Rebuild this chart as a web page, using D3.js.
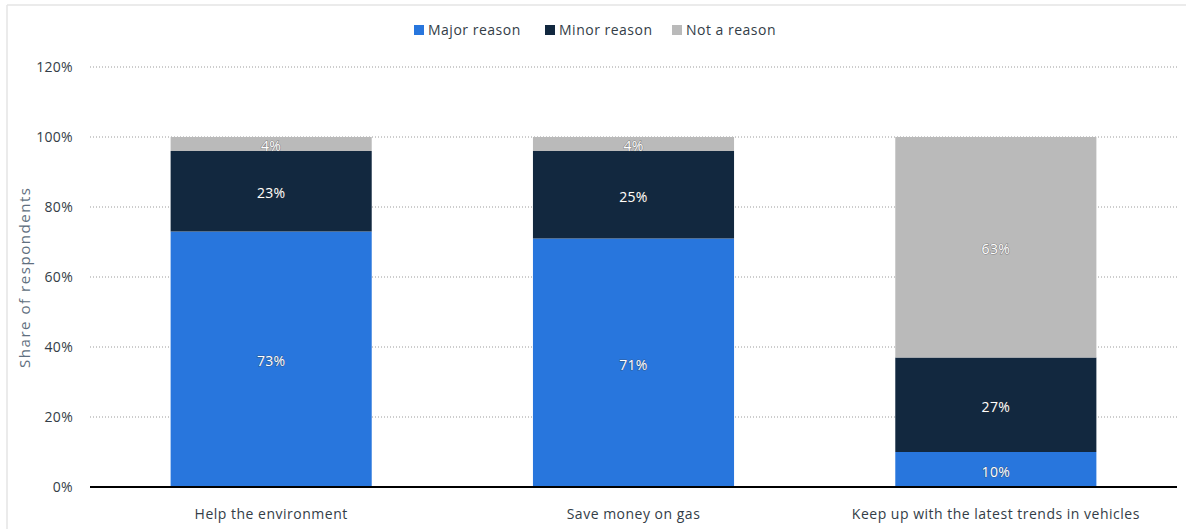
<!DOCTYPE html>
<html>
<head>
<meta charset="utf-8">
<script src="https://cdn.jsdelivr.net/npm/d3@7"></script>
<style>
  body { margin: 0; background: #fff; }
  svg { display: block; font-family: "Open Sans", "Noto Sans", sans-serif; }
</style>
</head>
<body>
<div id="chart"></div>
<script>
const categories = ['Help the environment', 'Save money on gas', 'Keep up with the latest trends in vehicles'];
const seriesNames = ['Major reason', 'Minor reason', 'Not a reason'];
const majorReason = [73, 71, 10];
const minorReason = [23, 25, 27];
const notAReason = [4, 4, 63];
const yTicks = [0, 20, 40, 60, 80, 100, 120];

const colors = ['#2876dd', '#12283f', '#bababa'];

const width = 1192;
const height = 529;
const margin = { top: 67, right: 15, bottom: 42, left: 90 };

const svg = d3.select('#chart')
  .append('svg')
  .attr('width', width)
  .attr('height', height);

// frame lines
svg.append('line')
  .attr('x1', 7).attr('y1', 5).attr('x2', 1186).attr('y2', 5)
  .attr('stroke', '#e4e4e4').attr('stroke-width', 1.5);
svg.append('line')
  .attr('x1', 7).attr('y1', 5).attr('x2', 7).attr('y2', height)
  .attr('stroke', '#e4e4e4').attr('stroke-width', 1.5);

const rows = categories.map((c, i) => ({
  category: c,
  'Major reason': majorReason[i],
  'Minor reason': minorReason[i],
  'Not a reason': notAReason[i]
}));

const stacked = d3.stack().keys(seriesNames)(rows);

const x = d3.scaleBand()
  .domain(categories)
  .range([margin.left, width - margin.right])
  .paddingInner(0.445)
  .paddingOuter(0.2225);

const y = d3.scaleLinear()
  .domain([0, 120])
  .range([height - margin.bottom, margin.top]);

// grid
svg.append('g')
  .selectAll('line')
  .data(yTicks.filter(d => d > 0))
  .join('line')
  .attr('x1', margin.left)
  .attr('x2', width - margin.right)
  .attr('y1', d => y(d))
  .attr('y2', d => y(d))
  .attr('stroke', '#9a9a9a')
  .attr('stroke-width', 1)
  .attr('stroke-dasharray', '1,2');

// y axis labels
const yAxis = svg.append('g')
  .attr('transform', `translate(${margin.left - 14},0)`)
  .call(d3.axisLeft(y).tickValues(yTicks).tickFormat(d => d + '%').tickSize(0));
yAxis.select('.domain').remove();
yAxis.selectAll('text')
  .attr('font-size', 14)
  .attr('letter-spacing', '0.3px')
  .attr('fill', '#333d47')
  .attr('font-family', '"Open Sans", sans-serif');

svg.append('text')
  .attr('transform', `translate(30,${278}) rotate(-90)`)
  .attr('text-anchor', 'middle')
  .attr('font-size', 15)
  .attr('textLength', 180)
  .attr('lengthAdjust', 'spacing')
  .attr('fill', '#5f6f80')
  .text('Share of respondents');

// bars
const layers = svg.append('g')
  .selectAll('g')
  .data(stacked)
  .join('g')
  .attr('fill', (d, i) => colors[i]);

layers.selectAll('rect')
  .data(d => d)
  .join('rect')
  .attr('x', d => x(d.data.category))
  .attr('width', x.bandwidth())
  .attr('y', d => y(d[1]))
  .attr('height', d => y(d[0]) - y(d[1]));

// labels
layers.selectAll('text')
  .data(d => d)
  .join('text')
  .attr('x', d => x(d.data.category) + x.bandwidth() / 2)
  .attr('y', d => (y(d[0]) + y(d[1])) / 2 + 7)
  .attr('text-anchor', 'middle')
  .attr('font-size', 14)
  .attr('letter-spacing', '0.3px')
  .attr('fill', '#ffffff')
  .attr('stroke', 'rgba(60,60,60,0.45)')
  .attr('stroke-width', 1.2)
  .attr('paint-order', 'stroke')
  .text(d => (d[1] - d[0]) + '%');

// baseline
svg.append('line')
  .attr('x1', margin.left)
  .attr('x2', width - margin.right)
  .attr('y1', y(0))
  .attr('y2', y(0))
  .attr('stroke', '#000')
  .attr('stroke-width', 2);

// x axis labels
svg.append('g')
  .selectAll('text')
  .data(categories)
  .join('text')
  .attr('x', d => x(d) + x.bandwidth() / 2)
  .attr('y', y(0) + 32)
  .attr('text-anchor', 'middle')
  .attr('font-size', 14)
  .attr('letter-spacing', '0.5px')
  .attr('fill', '#333d47')
  .text(d => d);

// legend
const legendItems = [
  { name: 'Major reason', x: 414 },
  { name: 'Minor reason', x: 545 },
  { name: 'Not a reason', x: 672 }
];
const legend = svg.append('g')
  .selectAll('g')
  .data(legendItems)
  .join('g')
  .attr('transform', d => `translate(${d.x},24)`);

legend.append('rect')
  .attr('width', 10)
  .attr('height', 10)
  .attr('y', 1)
  .attr('fill', (d, i) => colors[i]);

legend.append('text')
  .attr('x', 14)
  .attr('y', 11)
  .attr('font-size', 14)
  .attr('letter-spacing', '0.5px')
  .attr('fill', '#333d47')
  .text(d => d.name);
</script>
</body>
</html>
